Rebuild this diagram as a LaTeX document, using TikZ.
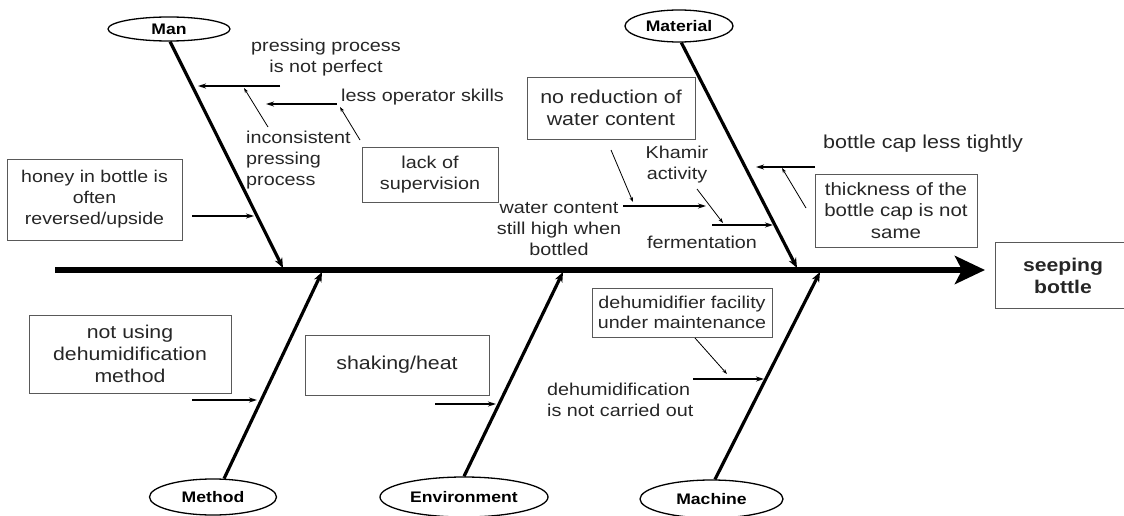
\documentclass[tikz,border=0pt]{standalone}
\usepackage{fontspec}
\setmainfont{Liberation Sans}[FakeStretch=1.15]
\usetikzlibrary{shapes.geometric,arrows.meta}
\begin{document}
\begin{tikzpicture}[x=1pt,y=-1pt,
  lbl/.style={ellipse,draw,line width=1.3pt,inner sep=0pt,font=\fontsize{15.3}{18}\selectfont\bfseries},
  cbox/.style={draw=black!65,line width=0.9pt,align=center,inner sep=0pt,text=black!85},
  boxline/.style={draw=black!65,line width=0.9pt},
  txt/.style={align=center,inner sep=0pt,text=black!85},
  bone/.style={line width=3.2pt,-{Stealth[length=10pt,width=8pt]}},
  cause/.style={line width=1.8pt,-{Stealth[length=8pt,width=5pt]}},
  sub/.style={line width=0.8pt,-{Stealth[length=5pt,width=3.5pt]}},
  fa/.style={font=\fontsize{17.2}{21}\selectfont},
  fb/.style={font=\fontsize{18.6}{21.5}\selectfont},
]
\useasboundingbox (0,0) rectangle (1124,516);
% spine and head
\coordinate (s0) at (55,270);
\coordinate (s1) at (985,270);
\draw[line width=5.5pt,-{Stealth[length=30pt,width=28pt,inset=7pt]}] (s0) -- (s1);
\node[txt,minimum width=134pt,minimum height=65pt,font=\fontsize{18.4}{22}\selectfont\bfseries] (head) at (1063,275.5) {seeping\\bottle};
\draw[boxline] (head.north west) rectangle ([xshift=30pt]head.south east);
% category labels
\node[lbl,minimum width=122pt,minimum height=24pt] (man) at (169,29) {Man};
\node[lbl,minimum width=108pt,minimum height=32pt] (material) at (679,26) {Material};
\node[lbl,minimum width=127pt,minimum height=36pt] (method) at (213,497) {Method};
\node[lbl,minimum width=168pt,minimum height=40pt] (environment) at (464,497) {Environment};
\node[lbl,minimum width=143pt,minimum height=38pt] (machine) at (711.5,499) {Machine};
% bones
\coordinate (m1) at (283,268);
\coordinate (mat1) at (797,268);
\coordinate (meth1) at (322,272);
\coordinate (env1) at (563,272);
\coordinate (mach1) at (820,272);
\draw[bone] (man.-85) -- (m1);
\draw[bone] (material.-82) -- (mat1);
\draw[bone] (method.59) -- (meth1);
\draw[bone] (environment.north) -- (env1);
\draw[bone] (machine.80) -- (mach1);
% Man causes
\node[txt,fa] (press) at (326,58) {pressing process\\is not perfect};
\coordinate (p0) at (280,86); \coordinate (p1) at (198,86);
\draw[cause] (p0) -- (p1);
\node[txt,fa,anchor=west] (skills) at (341,97) {less operator skills};
\coordinate (l0) at (337,104); \coordinate (l1) at (266,104);
\draw[cause] (l0) -- (l1);
\node[txt,fa,anchor=west,align=left] (incons) at (246,160) {inconsistent\\pressing\\process};
\coordinate (i0) at (268,127); \coordinate (i1) at (244,88);
\draw[sub] (i0) -- (i1);
\node[cbox,fa,minimum width=136pt,minimum height=55pt] (lack) at (430,174.5) {lack of\\supervision};
\coordinate (k0) at (360,140); \coordinate (k1) at (340,107);
\draw[sub] (k0) -- (k1);
\node[cbox,fa,font=\fontsize{17}{21}\selectfont,minimum width=175pt,minimum height=81pt] (honey) at (94.5,199.5) {honey in bottle is\\often\\reversed/upside};
\coordinate (h0) at (192,216); \coordinate (h1) at (254,216);
\draw[cause] (h0) -- (h1);
% Material causes
\node[cbox,fb,minimum width=168pt,minimum height=62pt] (noreduc) at (611,108) {no reduction of\\water content};
\coordinate (n0) at (611,150); \coordinate (n1) at (633,202);
\draw[sub] (n0) -- (n1);
\node[txt,fa] (water) at (559,229) {water content\\still high when\\bottled};
\coordinate (w0) at (623,206); \coordinate (w1) at (706,206);
\draw[cause,line width=1.3pt] (w0) -- (w1);
\node[txt,fa] (khamir) at (677,165) {Khamir\\activity};
\coordinate (q0) at (697,189); \coordinate (q1) at (723,223);
\draw[sub] (q0) -- (q1);
\node[txt,fa] (ferm) at (702,242) {fermentation};
\coordinate (f0) at (712,225); \coordinate (f1) at (773,225);
\draw[cause,line width=1.3pt] (f0) -- (f1);
\node[txt,font=\fontsize{18.7}{22}\selectfont] (cap) at (923,144) {bottle cap less tightly};
\coordinate (c0) at (815,167); \coordinate (c1) at (756,167);
\draw[cause] (c0) -- (c1);
\node[cbox,fa,font=\fontsize{17.8}{21.5}\selectfont,minimum width=162pt,minimum height=73pt] (thick) at (896,210.5) {thickness of the\\bottle cap is not\\same};
\coordinate (t0) at (806,208); \coordinate (t1) at (782,168);
\draw[sub] (t0) -- (t1);
% Method
\node[cbox,font=\fontsize{18.5}{22}\selectfont,minimum width=202pt,minimum height=78pt] (notusing) at (130,354) {not using\\dehumidification\\method};
\coordinate (u0) at (192,400); \coordinate (u1) at (257,400);
\draw[cause] (u0) -- (u1);
% Environment
\node[cbox,fb,minimum width=184pt,minimum height=60pt] (shaking) at (397,365) {shaking/heat};
\coordinate (e0) at (435,404); \coordinate (e1) at (496,404);
\draw[cause] (e0) -- (e1);
% Machine
\node[cbox,font=\fontsize{17.1}{20}\selectfont,minimum width=180pt,minimum height=49pt] (dehum) at (682,312.5) {dehumidifier facility\\under maintenance};
\coordinate (d0) at (695,338); \coordinate (d1) at (727,374);
\draw[sub] (d0) -- (d1);
\node[txt,fa,anchor=west,align=left] (notcarried) at (547,400) {dehumidification\\is not carried out};
\coordinate (g0) at (693,379); \coordinate (g1) at (764,379);
\draw[cause] (g0) -- (g1);
\end{tikzpicture}
\end{document}
